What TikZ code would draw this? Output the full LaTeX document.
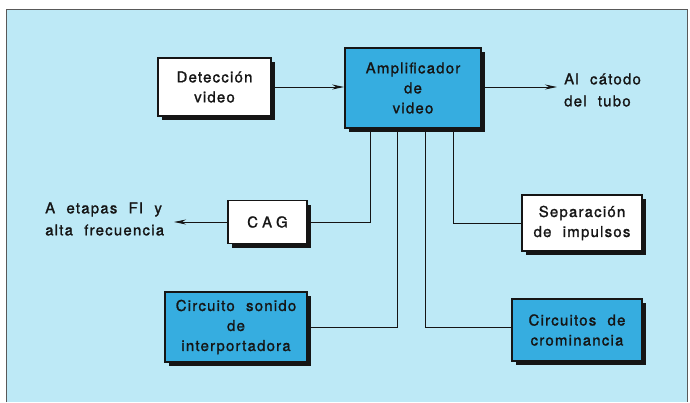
\documentclass[tikz,border=0pt]{standalone}
\usepackage{fontspec}
\setmainfont[LetterSpace=8,WordSpace=2.1,FakeBold=1.3]{TeX Gyre Heros}
\usetikzlibrary{shadows,arrows.meta}
\definecolor{bgc}{HTML}{BDE9F6}
\definecolor{boxblue}{HTML}{36ADE0}
\definecolor{ink}{HTML}{151515}
\tikzset{
  blk/.style={draw=ink, line width=1.8pt, align=center, inner sep=2pt,
    font=\fontsize{15}{20}\selectfont, text=ink,
    drop shadow={shadow xshift=4pt, shadow yshift=-4pt, opacity=1, fill=ink}},
  whitebox/.style={blk, fill=white},
  bluebox/.style={blk, fill=boxblue},
  wire/.style={draw=ink, line width=1pt},
  arr/.style={wire, -{Stealth[length=12pt,width=5pt]}},
  lbl/.style={align=left, font=\fontsize{15}{22}\selectfont, text=ink, inner sep=0pt}
}
\begin{document}
\begin{tikzpicture}[x=1pt,y=-1pt]
\useasboundingbox (0,0) rectangle (690,402);
\fill[bgc] (6,9) rectangle (687,402);
\draw[gray!70!black, line width=1pt] (6,402) -- (6,9) -- (687,9) -- (687,402);

\node[whitebox, minimum width=113pt, minimum height=58pt] (det) at (214.5,87) {Detección\\video};
\node[bluebox, minimum width=136pt, minimum height=80pt] (amp) at (413,88) {Amplificador\\de\\video};
\node[whitebox, minimum width=79pt, minimum height=43pt] (cag) at (267.5,222) {\addfontfeature{LetterSpace=30}CAG};
\node[whitebox, minimum width=120pt, minimum height=56pt] (sep) at (582,223) {Separación\\de impulsos};
\node[bluebox, minimum width=142pt, minimum height=70pt] (son) at (236,327) {Circuito sonido\\de\\interportadora};
\node[bluebox, minimum width=130pt, minimum height=62pt] (cro) at (577,330) {Circuitos de\\crominancia};

\coordinate (out) at (557,87);
\coordinate (fi) at (174,222);
\coordinate (v1) at (370,0);
\coordinate (v2) at (397,0);
\coordinate (v3) at (425,0);
\coordinate (v4) at (453,0);
\coordinate (croin) at (512,327);

\node[lbl, anchor=west] (catodo) at (564,90) {Al cátodo\\del tubo};
\node[lbl, anchor=west] (etapas) at (45,219) {A etapas FI y\\alta frecuencia};

\draw[arr] (det.east |- 0,87) -- (amp.west |- 0,87);
\draw[arr] (amp.east |- out) -- (out);
\draw[arr] (cag.west) -- (fi);
\draw[wire] (amp.south -| v1) |- (cag.east);
\draw[wire] (amp.south -| v2) |- (son.east);
\draw[wire] (amp.south -| v3) |- (croin);
\draw[wire] (amp.south -| v4) |- (sep.west);
\end{tikzpicture}
\end{document}
